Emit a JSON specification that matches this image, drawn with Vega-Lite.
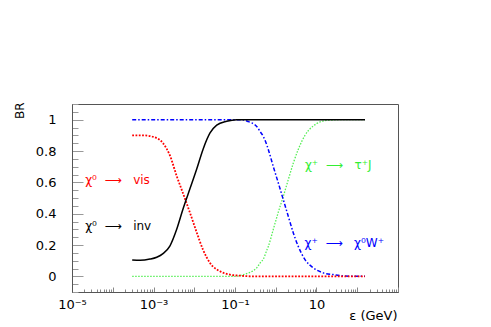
{
  "$schema": "https://vega.github.io/schema/vega-lite/v6.json",
  "autosize": {"type": "none"},
  "padding": {"left": 72, "top": 104, "right": 93, "bottom": 35},
  "width": 326,
  "height": 188,
  "background": "white",
  "config": {
    "view": {"stroke": "#555", "strokeWidth": 1},
    "font": "DejaVu Sans"
  },
  "datasets": {
    "curves": [
      {"s": "inv", "x": 3e-4, "br": 0.105}, {"s": "inv", "x": 4.7e-4, "br": 0.102}, {"s": "inv", "x": 8.2e-4, "br": 0.11},
      {"s": "inv", "x": 1.2e-3, "br": 0.122}, {"s": "inv", "x": 1.71e-3, "br": 0.145}, {"s": "inv", "x": 2.54e-3, "br": 0.195},
      {"s": "inv", "x": 3.71e-3, "br": 0.30}, {"s": "inv", "x": 5.3e-3, "br": 0.43}, {"s": "inv", "x": 7.87e-3, "br": 0.56},
      {"s": "inv", "x": 0.0115, "br": 0.685}, {"s": "inv", "x": 0.0164, "br": 0.81}, {"s": "inv", "x": 0.0244, "br": 0.915},
      {"s": "inv", "x": 0.0356, "br": 0.965}, {"s": "inv", "x": 0.0625, "br": 0.99}, {"s": "inv", "x": 0.11, "br": 1.0},
      {"s": "inv", "x": 155, "br": 1.0},
      {"s": "vis", "x": 3e-4, "br": 0.90}, {"s": "vis", "x": 5.5e-4, "br": 0.90}, {"s": "vis", "x": 9.9e-4, "br": 0.89},
      {"s": "vis", "x": 1.71e-3, "br": 0.85}, {"s": "vis", "x": 2.54e-3, "br": 0.77}, {"s": "vis", "x": 3.71e-3, "br": 0.64},
      {"s": "vis", "x": 5.3e-3, "br": 0.53}, {"s": "vis", "x": 7.87e-3, "br": 0.405}, {"s": "vis", "x": 0.0115, "br": 0.28},
      {"s": "vis", "x": 0.0164, "br": 0.17}, {"s": "vis", "x": 0.0244, "br": 0.085}, {"s": "vis", "x": 0.0428, "br": 0.032},
      {"s": "vis", "x": 0.0753, "br": 0.011}, {"s": "vis", "x": 0.133, "br": 0.004}, {"s": "vis", "x": 0.3, "br": 0.0},
      {"s": "vis", "x": 155, "br": 0.0},
      {"s": "W", "x": 3e-4, "br": 1.0}, {"s": "W", "x": 0.15, "br": 1.0}, {"s": "W", "x": 0.2, "br": 0.99},
      {"s": "W", "x": 0.341, "br": 0.957}, {"s": "W", "x": 0.411, "br": 0.925}, {"s": "W", "x": 0.495, "br": 0.893},
      {"s": "W", "x": 0.6, "br": 0.84}, {"s": "W", "x": 0.656, "br": 0.81}, {"s": "W", "x": 0.871, "br": 0.70},
      {"s": "W", "x": 1.156, "br": 0.596}, {"s": "W", "x": 1.53, "br": 0.49}, {"s": "W", "x": 2.03, "br": 0.383},
      {"s": "W", "x": 2.7, "br": 0.277}, {"s": "W", "x": 3.57, "br": 0.191}, {"s": "W", "x": 5.22, "br": 0.107},
      {"s": "W", "x": 8.34, "br": 0.054}, {"s": "W", "x": 14.7, "br": 0.022}, {"s": "W", "x": 25.8, "br": 0.011},
      {"s": "W", "x": 50, "br": 0.002}, {"s": "W", "x": 155, "br": 0.0},
      {"s": "tau", "x": 3e-4, "br": 0.0}, {"s": "tau", "x": 0.1, "br": 0.0}, {"s": "tau", "x": 0.16, "br": 0.011},
      {"s": "tau", "x": 0.341, "br": 0.054}, {"s": "tau", "x": 0.411, "br": 0.085}, {"s": "tau", "x": 0.495, "br": 0.11},
      {"s": "tau", "x": 0.6, "br": 0.165}, {"s": "tau", "x": 0.656, "br": 0.19}, {"s": "tau", "x": 0.871, "br": 0.30},
      {"s": "tau", "x": 1.156, "br": 0.41}, {"s": "tau", "x": 1.53, "br": 0.51}, {"s": "tau", "x": 2.03, "br": 0.617},
      {"s": "tau", "x": 2.7, "br": 0.723}, {"s": "tau", "x": 3.57, "br": 0.81}, {"s": "tau", "x": 5.22, "br": 0.90},
      {"s": "tau", "x": 8.34, "br": 0.96}, {"s": "tau", "x": 17.8, "br": 0.995}, {"s": "tau", "x": 44.7, "br": 1.0},
      {"s": "tau", "x": 155, "br": 1.0}
    ],
    "labels": [
      {"s": "vis", "x": 2.1e-5, "br": 0.613, "t": "χ⁰\u00a0\u00a0⟶\u00a0\u00a0\u00a0vis"},
      {"s": "inv", "x": 2.1e-5, "br": 0.319, "t": "χ⁰\u00a0\u00a0⟶\u00a0\u00a0\u00a0inv"},
      {"s": "tau", "x": 5.2, "br": 0.713, "t": "χ⁺\u00a0\u00a0⟶\u00a0\u00a0\u00a0τ⁺J"},
      {"s": "W", "x": 5.1, "br": 0.213, "t": "χ⁺\u00a0\u00a0⟶\u00a0\u00a0\u00a0χ⁰W⁺"}
    ]
  },
  "encoding": {
    "x": {
      "field": "x", "type": "quantitative",
      "scale": {"type": "log", "domain": [1e-5, 1000], "nice": false},
      "axis": {
        "title": "ε (GeV)",
        "titleFont": "DejaVu Sans", "titleFontSize": 13, "titleFontWeight": "normal", "titleColor": "#000",
        "titleX": 325, "titleY": 23, "titleAlign": "right", "titleBaseline": "middle", "titleAnchor": "end",
        "values": [1e-5,2e-5,3e-5,4e-5,5e-5,6e-5,7e-5,8e-5,9e-5,
                   1e-4,2e-4,3e-4,4e-4,5e-4,6e-4,7e-4,8e-4,9e-4,
                   1e-3,2e-3,3e-3,4e-3,5e-3,6e-3,7e-3,8e-3,9e-3,
                   0.01,0.02,0.03,0.04,0.05,0.06,0.07,0.08,0.09,
                   0.1,0.2,0.3,0.4,0.5,0.6,0.7,0.8,0.9,
                   1,2,3,4,5,6,7,8,9,
                   10,20,30,40,50,60,70,80,90,
                   100,200,300,400,500,600,700,800,900,1000],
        "labelExpr": "abs(datum.value/1e-5-1)<1e-6 ? '10⁻⁵' : abs(datum.value/1e-3-1)<1e-6 ? '10⁻³' : abs(datum.value/0.1-1)<1e-6 ? '10⁻¹' : abs(datum.value/10-1)<1e-6 ? '10' : ''",
        "labelFont": "DejaVu Sans", "labelFontSize": 13, "labelColor": "#000",
        "labelPadding": 11, "labelOverlap": false, "labelFlush": false,
        "grid": false, "domainColor": "#555", "tickColor": "#888",
        "tickSize": {"condition": {"test": "abs(log(datum.value)/LN10 - round(log(datum.value)/LN10)) < 0.001", "value": -5}, "value": -3}
      }
    },
    "y": {
      "field": "br", "type": "quantitative",
      "scale": {"domain": [-0.1, 1.1], "nice": false, "zero": false},
      "axis": {
        "title": "BR",
        "titleFont": "DejaVu Sans", "titleFontSize": 12, "titleFontWeight": "normal", "titleColor": "#000",
        "titleAngle": 270, "titleX": -53, "titleY": -2, "titleAlign": "right", "titleBaseline": "middle",
        "values": [-0.1,-0.05,0,0.05,0.1,0.15,0.2,0.25,0.3,0.35,0.4,0.45,0.5,0.55,0.6,0.65,0.7,0.75,0.8,0.85,0.9,0.95,1,1.05,1.1],
        "labelExpr": "abs(datum.value*5 - round(datum.value*5)) < 1e-6 && datum.value >= 0 && datum.value <= 1 ? format(datum.value, '.1~f') : ''",
        "labelFont": "DejaVu Sans", "labelFontSize": 13, "labelColor": "#000",
        "labelPadding": 27, "labelOverlap": false, "labelFlush": false,
        "grid": false, "domainColor": "#555", "tickColor": "#999",
        "tickSize": {"condition": {"test": "abs(datum.value*5 - round(datum.value*5)) < 1e-6", "value": -11}, "value": -6}
      }
    },
    "color": {
      "field": "s", "type": "nominal", "legend": null,
      "scale": {"domain": ["inv", "vis", "W", "tau"], "range": ["#000000", "#ff0000", "#0000ff", "#33ee33"]}
    }
  },
  "layer": [
    {
      "data": {"name": "curves"},
      "transform": [{"filter": "datum.s == 'tau'"}],
      "mark": {"type": "line", "interpolate": "monotone", "strokeWidth": 1.3, "strokeDash": [1.5, 1.5], "clip": true},
      "encoding": {"color": {"value": "#55ee55"}}
    },
    {
      "data": {"name": "curves"},
      "transform": [{"filter": "datum.s == 'W'"}],
      "mark": {"type": "line", "interpolate": "monotone", "strokeWidth": 1.5, "strokeDash": [4, 2, 1.5, 2], "clip": true}
    },
    {
      "data": {"name": "curves"},
      "transform": [{"filter": "datum.s == 'vis'"}],
      "mark": {"type": "line", "interpolate": "monotone", "strokeWidth": 1.8, "strokeDash": [1.8, 1.5], "clip": true}
    },
    {
      "data": {"name": "curves"},
      "transform": [{"filter": "datum.s == 'inv'"}],
      "mark": {"type": "line", "interpolate": "monotone", "strokeWidth": 1.5, "clip": true}
    },
    {
      "data": {"name": "labels"},
      "mark": {"type": "text", "align": "left", "baseline": "middle", "font": "DejaVu Sans", "fontSize": 12},
      "encoding": {"text": {"field": "t", "type": "nominal"}}
    }
  ]
}
